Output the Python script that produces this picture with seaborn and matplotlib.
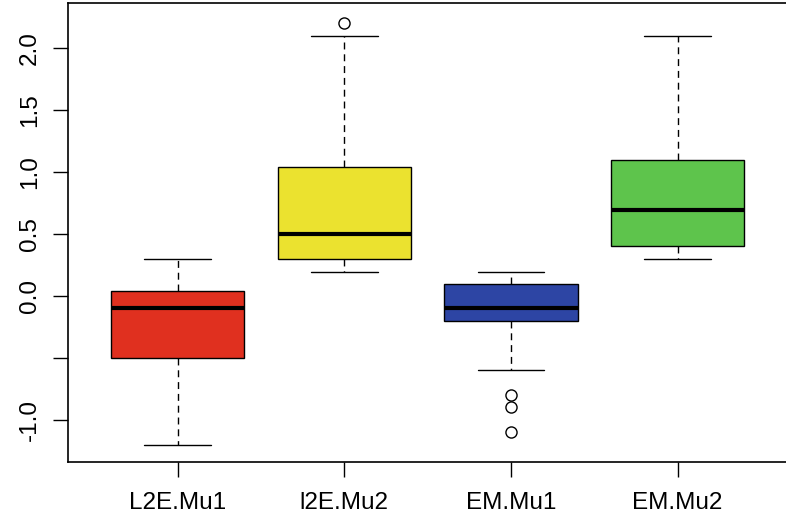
import pandas as pd
import matplotlib.pyplot as plt
import seaborn as sns

# Observations per group (read so that quartiles / whiskers / outliers match the picture)
groups = ['L2E.Mu1', 'l2E.Mu2', 'EM.Mu1', 'EM.Mu2']
l2e_mu1 = [-1.2, -0.5, -0.1, 0.04, 0.3]
l2e_mu2 = [0.19, 0.25, 0.3, 0.4, 0.5, 0.8, 1.04, 2.1, 2.2]
em_mu1 = [-1.1, -0.9, -0.8, -0.6, -0.2, -0.17, -0.14, -0.12, -0.1,
          -0.05, 0.0, 0.05, 0.1, 0.12, 0.15, 0.17, 0.19]
em_mu2 = [0.3, 0.4, 0.69, 1.1, 2.1]
box_colors = ['#E0301F', '#EBE22F', '#2D45A4', '#5EC44C']

y_ticks = [-1.0, -0.5, 0.0, 0.5, 1.0, 1.5, 2.0]
y_tick_labels = ['-1.0', '', '0.0', '0.5', '1.0', '1.5', '2.0']

df = pd.DataFrame({
    'group': [groups[0]] * len(l2e_mu1) + [groups[1]] * len(l2e_mu2)
             + [groups[2]] * len(em_mu1) + [groups[3]] * len(em_mu2),
    'value': l2e_mu1 + l2e_mu2 + em_mu1 + em_mu2,
})

sns.set_style('white')
plt.rcParams['font.family'] = ['Liberation Sans', 'DejaVu Sans']

fig = plt.figure(figsize=(7.86, 5.26), dpi=100)
ax = fig.add_axes([0.086, 0.122, 0.916, 0.872])

sns.boxplot(data=df, x='group', y='value', hue='group', order=groups,
            palette=box_colors, saturation=1, width=0.8, legend=False,
            linecolor='black', linewidth=1.0, whis=1.5,
            medianprops=dict(color='black', linewidth=3.0),
            whiskerprops=dict(color='black', linewidth=1.0, linestyle=(0, (5, 3.5))),
            capprops=dict(color='black', linewidth=1.0),
            flierprops=dict(marker='o', markerfacecolor='none',
                            markeredgecolor='black', markersize=8,
                            markeredgewidth=1.0),
            ax=ax)

ax.set_xlim(-0.66, 3.66)
ax.set_ylim(-1.339, 2.363)
ax.set_yticks(y_ticks)
ax.set_yticklabels(y_tick_labels, rotation=90, va='center')
ax.set_xlabel('')
ax.set_ylabel('')
ax.tick_params(axis='y', length=11, width=1, labelsize=17.5, pad=8, left=True,
               color='black', labelcolor='black')
ax.tick_params(axis='x', length=11, width=1, labelsize=17.5, pad=11, bottom=True,
               color='black', labelcolor='black')
for s in ax.spines.values():
    s.set_visible(True)
    s.set_color('black')
    s.set_linewidth(1.2)

fig.savefig('out.png', dpi=100)
